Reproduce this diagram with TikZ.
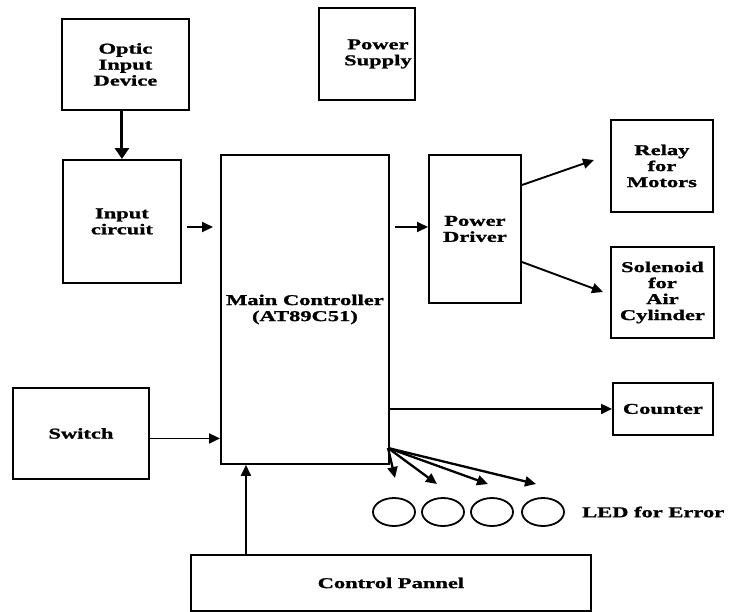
\documentclass[tikz,border=0pt]{standalone}
\usepackage{fontspec}
\newfontfamily\diagfont[FakeStretch=1.5,FakeBold=1.3]{Liberation Serif}
\usetikzlibrary{arrows.meta,shapes.geometric}
\begin{document}
\begin{tikzpicture}[x=1pt,y=-1pt,
  blk/.style={draw,line width=1.9pt,anchor=north west,inner sep=0pt,align=center,
    font=\diagfont\bfseries\fontsize{15}{16}\selectfont},
  arr/.style={line width=1.9pt,-{Triangle[length=11pt,width=10pt]}},
  fan/.style={line width=2.3pt,-{Triangle[length=11pt,width=10pt]}},
  bigarr/.style={line width=3pt,-{Triangle[length=11pt,width=14pt]}},
  led/.style={draw,line width=1.8pt,ellipse,minimum width=42pt,minimum height=28pt,inner sep=0pt},
  lbl/.style={font=\diagfont\bfseries\fontsize{15}{16}\selectfont}]
\useasboundingbox (0,0) rectangle (731,611);
\node[blk,minimum width=127pt,minimum height=91pt] (optic) at (61,18) {Optic\\Input\\Device};
\node[blk,minimum width=96pt,minimum height=92pt] (ps) at (318,7) {\hspace*{22pt}Power\\\hspace*{22pt}Supply};
\node[blk,minimum width=118pt,minimum height=123pt] (inp) at (62,159) {Input\\circuit};
\node[blk,minimum width=168pt,minimum height=309pt] (main) at (220,154) {Main Controller\\(AT89C51)};
\node[blk,minimum width=92pt,minimum height=148pt] (pd) at (428,154) {Power\\Driver};
\node[blk,minimum width=102pt,minimum height=92pt] (relay) at (610,119) {Relay\\for\\Motors};
\node[blk,minimum width=103pt,minimum height=91pt] (sol) at (610,246) {Solenoid\\for\\Air\\Cylinder};
\node[blk,minimum width=136pt,minimum height=91pt] (sw) at (12,387) {Switch};
\node[blk,minimum width=100pt,minimum height=52pt] (cnt) at (612,382) {Counter};
\node[blk,minimum width=400pt,minimum height=56pt] (ctrl) at (190,554) {Control Pannel};
\node[led] (l1) at (394,512) {};
\node[led] (l2) at (443,512) {};
\node[led] (l3) at (492,512) {};
\node[led] (l4) at (543,512) {};
\node[lbl,anchor=west,inner sep=0pt] (ledtxt) at (582,512) {LED for Error};
% connectors
\draw[bigarr] (inp.north |- optic.south) -- (inp.north);
\coordinate (ia) at (187,227); \coordinate (ib) at (213,227);
\draw[arr] (ia) -- (ib);
\coordinate (pa) at (395,227);
\draw[arr] (pa) -- (pa -| pd.west);
\coordinate (r0) at (522,185); \coordinate (r1) at (594,160);
\draw[arr] (r0) -- (r1);
\coordinate (s0) at (522,262); \coordinate (s1) at (603,292);
\draw[arr] (s0) -- (s1);
\draw[arr] ([yshift=-5pt]sw.east) -- ([yshift=-5pt]sw.east -| main.west);
\draw[arr] (cnt.west -| main.east) -- (cnt.west);
\draw[arr] ([xshift=-145pt]ctrl.north) -- ([xshift=-145pt]ctrl.north |- main.south);
\coordinate (f0) at (388,448);
\coordinate (f1) at (395,478); \coordinate (f2) at (437,484);
\coordinate (f3) at (488,484); \coordinate (f4) at (536,484);
\draw[fan] (f0) -- (f1);
\draw[fan] (f0) -- (f2);
\draw[fan] (f0) -- (f3);
\draw[fan] (f0) -- (f4);
\end{tikzpicture}
\end{document}
